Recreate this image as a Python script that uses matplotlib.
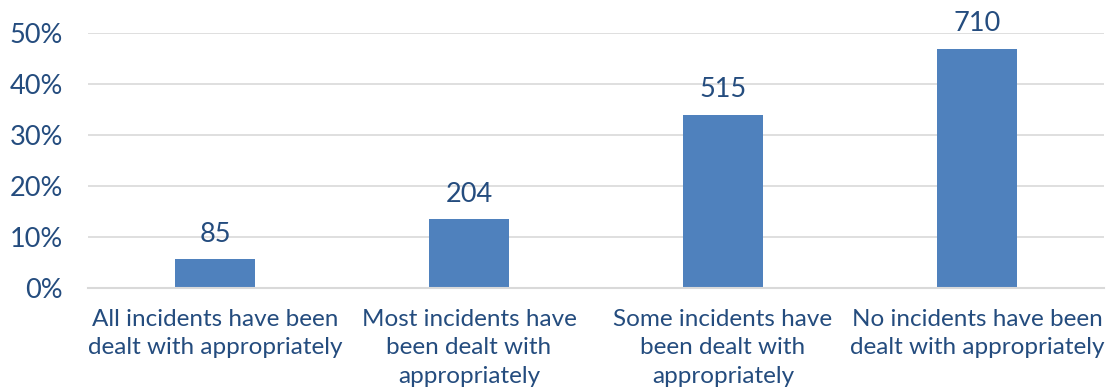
import matplotlib
matplotlib.use("Agg")
import matplotlib.pyplot as plt
from matplotlib.ticker import PercentFormatter

categories = [
    "All incidents have been\ndealt with appropriately",
    "Most incidents have\nbeen dealt with\nappropriately",
    "Some incidents have\nbeen dealt with\nappropriately",
    "No incidents have been\ndealt with appropriately",
]
counts = [85, 204, 515, 710]
yticks = [0, 0.1, 0.2, 0.3, 0.4, 0.5]

total = sum(counts)
shares = [c / total for c in counts]

text_color = "#244C7E"
bar_color = "#4F81BD"
grid_color = "#D9D9D9"

plt.rcParams["font.family"] = ["Lato", "DejaVu Sans"]

fig = plt.figure(figsize=(11.09, 3.87), dpi=100)
ax = fig.add_axes([88 / 1109, 1 - 288 / 387, (1104 - 88) / 1109, (288 - 33) / 387])

x = list(range(len(categories)))
ax.bar(x, shares, width=0.315, color=bar_color, zorder=3)

for xi, s, c in zip(x, shares, counts):
    ax.annotate(str(c), (xi, s), xytext=(0, 9), textcoords="offset points",
                ha="center", va="bottom", fontsize=19.5, color=text_color,
                annotation_clip=False)

ax.set_xlim(-0.5, len(categories) - 0.5)
ax.set_ylim(0, 0.5)
ax.set_yticks(yticks)
ax.yaxis.set_major_formatter(PercentFormatter(1.0, decimals=0))
ax.set_xticks(x)
ax.set_xticklabels(categories, linespacing=1.45)

ax.tick_params(axis="y", length=0, pad=18, labelsize=19.5, labelcolor=text_color)
ax.tick_params(axis="x", length=0, pad=15, labelsize=17.5, labelcolor=text_color)

ax.grid(axis="y", color=grid_color, linewidth=1.2, zorder=0)
for side in ["top", "left", "right"]:
    ax.spines[side].set_visible(False)
ax.spines["bottom"].set_color(grid_color)
ax.spines["bottom"].set_linewidth(1.5)
ax.spines["bottom"].set_zorder(4)

fig.savefig("out.png", dpi=100)
